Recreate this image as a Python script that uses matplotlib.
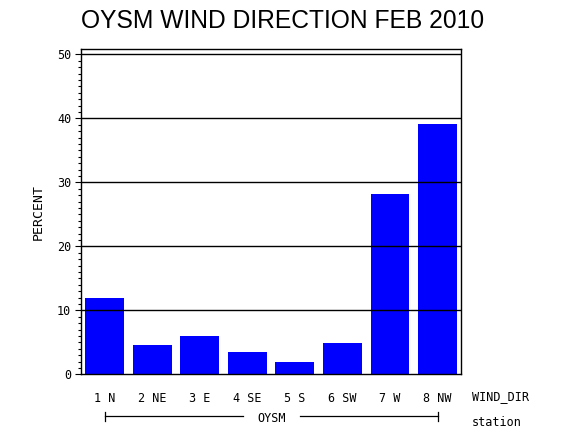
import numpy as np
import matplotlib.pyplot as plt
from matplotlib.ticker import MultipleLocator
from matplotlib.transforms import blended_transform_factory

# wind direction categories and percentages
directions = ["1 N", "2 NE", "3 E", "4 SE", "5 S", "6 SW", "7 W", "8 NW"]
percent = [11.9, 4.6, 6.0, 3.5, 1.9, 4.9, 28.2, 39.1]
station = "OYSM"
title = "OYSM WIND DIRECTION FEB 2010"

W, H = 570, 430
mono = "DejaVu Sans Mono"

fig = plt.figure(figsize=(W / 100, H / 100), dpi=100)
ax = fig.add_axes([81 / W, 1 - 374.3 / H, 380.3 / W, 325 / H])

x = np.arange(len(directions))
ax.bar(x, percent, width=0.82, color="#0000ff", zorder=2)

ax.set_xlim(-0.5, len(directions) - 0.5)
ax.set_ylim(0, 50.8)

# horizontal reference lines drawn over the bars
for yv in range(10, 51, 10):
    ax.axhline(yv, color="black", linewidth=1.0, zorder=3)

for s in ax.spines.values():
    s.set_linewidth(1.0)
    s.set_zorder(4)

ax.yaxis.set_major_locator(MultipleLocator(10))
ax.yaxis.set_minor_locator(MultipleLocator(1))
ax.tick_params(axis="y", which="major", length=4, width=0.8, pad=3,
               labelsize=8.5, direction="out")
ax.tick_params(axis="y", which="minor", length=2, width=0.8, direction="out")
for lab in ax.get_yticklabels():
    lab.set_fontfamily(mono)

ax.set_xticks(x)
ax.set_xticklabels(directions, fontfamily=mono, fontsize=8.5)
ax.tick_params(axis="x", length=0, pad=13)

fig.text(283 / W, 1 - 28.3 / H, title, ha="center", va="baseline",
         fontsize=17.7, family="Liberation Sans")
fig.text(38 / W, 1 - 212 / H, "PERCENT", rotation=90, ha="center",
         va="center", fontsize=9.5, family=mono)
fig.text(472 / W, 1 - 400.5 / H, "WIND_DIR", ha="left", va="baseline",
         fontsize=8.5, family=mono)
fig.text(472 / W, 1 - 425.5 / H, "station", ha="left", va="baseline",
         fontsize=8.5, family=mono)

# station bracket below the category labels
tr = blended_transform_factory(ax.transData, fig.transFigure)
yb = 1 - 415.5 / H
mid = (x[0] + x[-1]) / 2
gap = 0.6
ax.plot([x[0], mid - gap], [yb, yb], color="black", lw=0.9, transform=tr, clip_on=False)
ax.plot([mid + gap, x[-1]], [yb, yb], color="black", lw=0.9, transform=tr, clip_on=False)
for xe in (x[0], x[-1]):
    ax.plot([xe, xe], [1 - 411.5 / H, 1 - 420.5 / H], color="black", lw=0.9,
            transform=tr, clip_on=False)
ax.text(mid, 1 - 422 / H, station, transform=tr, ha="center", va="baseline",
        fontsize=8.5, family=mono)

fig.savefig("out.png", dpi=100)
